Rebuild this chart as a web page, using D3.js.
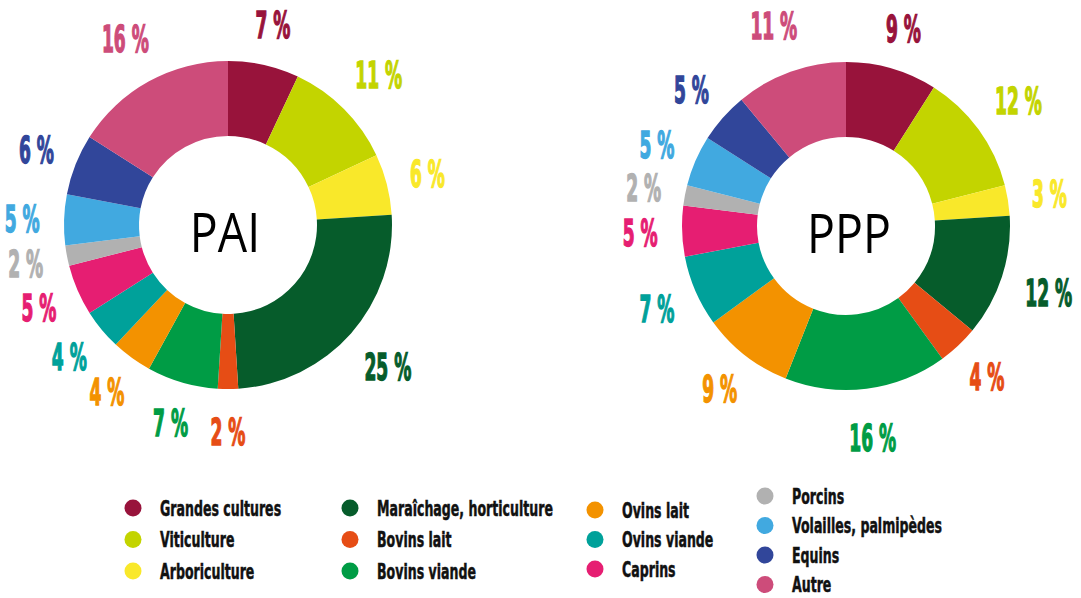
<!DOCTYPE html>
<html lang="fr">
<head>
<meta charset="utf-8">
<script src="https://cdn.jsdelivr.net/npm/d3@7"></script>
<style>
  html, body { margin: 0; padding: 0; background: #ffffff; }
  svg { display: block; }
  .pct { font-family: "DejaVu Sans Condensed", "DejaVu Sans", sans-serif; font-weight: bold; }
  .legend text { font-family: "DejaVu Sans Condensed", "DejaVu Sans", sans-serif; font-weight: bold; fill: #111; }
  .title { font-family: "Open Sans", "Noto Sans", sans-serif; fill: #000; }
</style>
</head>
<body>
<svg id="chart" width="1081" height="598"></svg>
<script>
// Farm types, in the order the slices run clockwise from 12 o'clock
const categories = [
  "Grandes cultures", "Viticulture", "Arboriculture",
  "Maraîchage, horticulture", "Bovins lait", "Bovins viande",
  "Ovins lait", "Ovins viande", "Caprins",
  "Porcins", "Volailles, palmipèdes", "Equins", "Autre"
];
const colors = [
  "#98133b", "#c3d400", "#f9e82a",
  "#065c2b", "#e64d15", "#009c45",
  "#f39200", "#00a19a", "#e61e72",
  "#b1b1b1", "#41a9e0", "#31469a", "#cd4c7a"
];
// Share of each farm type (%)
const paiValues = [7, 11, 6, 25, 2, 7, 4, 4, 5, 2, 5, 6, 16];
const pppValues = [9, 12, 3, 12, 4, 16, 9, 7, 5, 2, 5, 5, 11];
const chartNames = ["PAI", "PPP"];
// Legend columns: index ranges into categories
const legendGroups = [[0, 1, 2], [3, 4, 5], [6, 7, 8], [9, 10, 11, 12]];

const svg = d3.select("#chart");
const color = d3.scaleOrdinal().domain(categories).range(colors);

const innerR = 89, outerR = 164;
const arc = d3.arc().innerRadius(innerR).outerRadius(outerR);
const pie = d3.pie().sort(null).value(d => d.value);

const centers = [{ x: 228, y: 225 }, { x: 846, y: 226 }];
const titleShift = [-3, 3];
const series = [paiValues, pppValues];

// horizontal squeeze that turns the condensed sans into a tall display face
const pctSqueeze = 0.5;
const legendSqueeze = 0.665;

series.forEach((vals, k) => {
  const data = categories.map((c, i) => ({ cat: c, value: vals[i] }));
  const g = svg.append("g").attr("transform", `translate(${centers[k].x},${centers[k].y})`);

  g.selectAll("path.slice")
    .data(pie(data))
    .join("path")
    .attr("class", "slice")
    .attr("d", arc)
    .attr("fill", d => color(d.data.cat));

  const labels = g.selectAll("text.pct")
    .data(pie(data))
    .join("text")
    .attr("class", "pct")
    .attr("font-size", 38)
    .attr("text-anchor", "middle")
    .attr("dy", "0.36em")
    .attr("fill", d => color(d.data.cat))
    .attr("stroke", d => color(d.data.cat))
    .attr("stroke-width", 1.4)
    .text(d => `${d.data.value} %`);

  // push each label out along its slice's mid-angle; wider labels sit a bit farther
  labels.each(function (d) {
    const w = this.getComputedTextLength() * pctSqueeze;
    const r = 185 + 0.6 * w;
    const a = (d.startAngle + d.endAngle) / 2;
    const x = Math.sin(a) * r, y = -Math.cos(a) * r;
    d3.select(this).attr("transform", `translate(${x},${y}) scale(${pctSqueeze},1)`);
  });

  g.append("text")
    .attr("class", "title")
    .attr("font-size", 54)
    .attr("text-anchor", "middle")
    .attr("transform", `translate(${titleShift[k]},27) scale(0.86,1)`)
    .text(chartNames[k]);
});

// Legend
const legendX = [133, 350, 595, 765];
const legendTop = [508, 508, 510, 496];
const legendStep = [31.5, 31.5, 29.5, 29.5];
const legend = svg.append("g").attr("class", "legend");
legendGroups.forEach((group, col) => {
  const y = d3.scaleLinear().domain([0, 1]).range([legendTop[col], legendTop[col] + legendStep[col]]);
  const items = legend.selectAll(null)
    .data(group)
    .join("g")
    .attr("transform", (d, i) => `translate(${legendX[col]},${y(i)})`);
  items.append("circle")
    .attr("r", 8.5)
    .attr("fill", i => color(categories[i]));
  items.append("text")
    .attr("font-size", 21)
    .attr("dy", "0.36em")
    .attr("stroke", "#111")
    .attr("stroke-width", 0.5)
    .attr("transform", `translate(27,0) scale(${legendSqueeze},1)`)
    .text(i => categories[i]);
});
</script>
</body>
</html>
